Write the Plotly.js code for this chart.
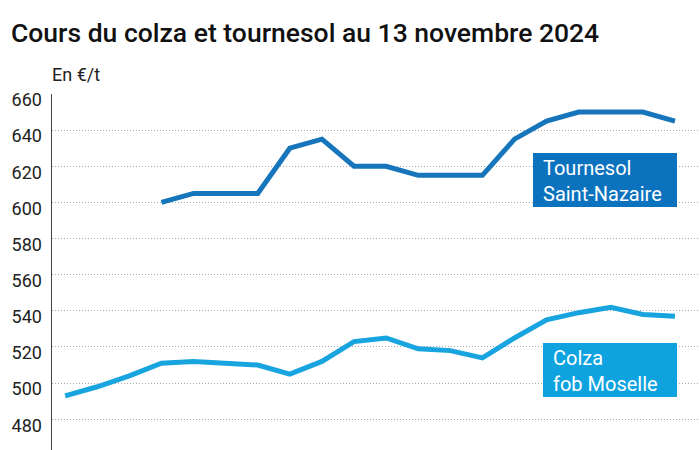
<!DOCTYPE html>
<html>
<head>
<meta charset="utf-8">
<script src="https://cdn.plot.ly/plotly-3.0.1.min.js"></script>
<style>
  html, body { margin:0; padding:0; background:#fff; }
  #grafica { width:700px; height:450px; }
</style>
</head>
<body>
<div id="grafica"></div>
<script>
// semaines (index), 20 relevés
const semaines = [0,1,2,3,4,5,6,7,8,9,10,11,12,13,14,15,16,17,18,19];

const colza = [493,498,504,511,512,511,510,505,512,523,525,519,518,514,525,535,539,542,538,537];

const tournesol = [null,null,null,600,605,605,605,630,635,620,620,615,615,615,635,645,650,650,650,645];

const yTicks = [480,500,520,540,560,580,600,620,640,660];

const W = 700, H = 450;
const M = {l:52, r:0, t:94, b:0};
// pixel -> paper
function px(x){ return (x - M.l) / (W - M.l - M.r); }
function py(y){ return (H - M.b - y) / (H - M.t - M.b); }

const traces = [
    {
        x: semaines,
        y: tournesol,
        mode:'lines',
        name:'Tournesol Saint-Nazaire',
        line:{ color:'#1675bb', width:5 },
        hoverinfo:'skip'
    },
    {
        x: semaines,
        y: colza,
        mode:'lines',
        name:'Colza fob Moselle',
        line:{ color:'#18a4de', width:5 },
        hoverinfo:'skip'
    }
];

const layout = {
    width: W,
    height: H,
    margin: M,
    paper_bgcolor:'#ffffff',
    plot_bgcolor:'#ffffff',
    showlegend:false,
    font:{ family:'Roboto, sans-serif', color:'#222' },
    title:{
        text:'Cours du colza et tournesol au 13 novembre 2024',
        font:{ family:'Roboto, sans-serif', size:26.5, color:'#111', weight:500 },
        x:11/W, xanchor:'left', xref:'container',
        y:1 - 33/H, yanchor:'middle', yref:'container'
    },
    xaxis:{
        range:[-0.41, 19.78],
        showgrid:false,
        zeroline:false,
        showline:false,
        showticklabels:false,
        ticks:''
    },
    yaxis:{
        range:[463, 660],
        tickvals: yTicks,
        ticktext: yTicks.map(String),
        ticks:'',
        ticklabelstandoff:5,
        ticklabelshift:6,
        tickfont:{ size:18, color:'#222' },
        showgrid:true,
        gridcolor:'#a8a8a8',
        griddash:'1px,2px',
        gridwidth:1,
        zeroline:false,
        showline:true,
        linecolor:'#444',
        linewidth:1.5
    },
    shapes:[
        {
            type:'rect', xref:'paper', yref:'paper',
            x0:px(533), x1:px(677), y0:py(207), y1:py(153),
            fillcolor:'#0b72be', line:{ width:0 }
        },
        {
            type:'rect', xref:'paper', yref:'paper',
            x0:px(543), x1:px(677), y0:py(397), y1:py(343),
            fillcolor:'#0ea3df', line:{ width:0 }
        }
    ],
    annotations:[
        {
            text:'En €/t', xref:'paper', yref:'paper',
            x:px(50), y:py(75), xanchor:'left', yanchor:'middle',
            showarrow:false, font:{ size:18, color:'#222' }
        },
        {
            text:'Tournesol<br>Saint-Nazaire', xref:'paper', yref:'paper',
            x:px(541), y:py(181), xanchor:'left', yanchor:'middle', align:'left',
            showarrow:false, font:{ size:20, color:'#ffffff' }
        },
        {
            text:'Colza<br>fob Moselle', xref:'paper', yref:'paper',
            x:px(551), y:py(371), xanchor:'left', yanchor:'middle', align:'left',
            showarrow:false, font:{ size:20, color:'#ffffff' }
        }
    ]
};

Plotly.newPlot('grafica', traces, layout, { displayModeBar:false, staticPlot:true });
</script>
</body>
</html>
